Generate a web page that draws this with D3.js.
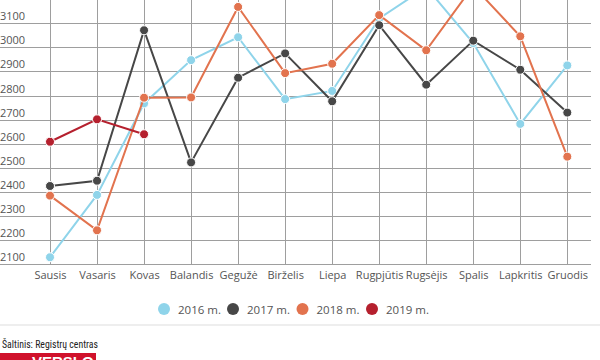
<!DOCTYPE html>
<html>
<head>
<meta charset="utf-8">
<script src="https://cdn.jsdelivr.net/npm/d3@7"></script>
<style>
  html, body { margin: 0; padding: 0; background: #fff; }
  svg { display: block; font-family: "Open Sans", "Noto Sans", sans-serif; }
</style>
</head>
<body>
<svg id="chart" width="600" height="360"></svg>
<script>
const months = ["Sausis","Vasaris","Kovas","Balandis","Gegužė","Birželis","Liepa","Rugpjūtis","Rugsėjis","Spalis","Lapkritis","Gruodis"];
const values2016 = [2128, 2387, 2767, 2947, 3042, 2785, 2819, 3120, 3250, 3018, 2682, 2925];
const values2017 = [2424, 2446, 3071, 2522, 2874, 2975, 2776, 3092, 2845, 3028, 2907, 2729];
const values2018 = [2384, 2240, 2791, 2792, 3168, 2893, 2932, 3134, 2988, 3255, 3046, 2546];
const values2019 = [2608, 2701, 2639];
const seriesNames = ["2016 m.", "2017 m.", "2018 m.", "2019 m."];
const seriesColors = ["#8fd4ea", "#474747", "#e2734e", "#b5202e"];
const yTicks = [2100, 2200, 2300, 2400, 2500, 2600, 2700, 2800, 2900, 3000, 3100, 3200];
const sourceText = "Šaltinis: Registrų centras";
const logoText = "VERSLO";

const svg = d3.select("#chart");
const x = d3.scalePoint().domain(months).range([50, 567.3]);
const y = d3.scaleLinear().domain([2100, 3100]).range([264, 23.3]);

// horizontal gridlines
const gGrid = svg.append("g");
gGrid.selectAll("line.h").data(yTicks).join("line")
  .attr("x1", 0).attr("x2", 591)
  .attr("y1", d => Math.round(y(d)) + 0.5).attr("y2", d => Math.round(y(d)) + 0.5)
  .attr("stroke", "#9e9e9e").attr("stroke-width", 1);
// vertical gridlines
gGrid.selectAll("line.v").data(months).join("line")
  .attr("x1", d => Math.round(x(d)) + 0.5).attr("x2", d => Math.round(x(d)) + 0.5)
  .attr("y1", 0).attr("y2", Math.round(y(2100)) + 0.5)
  .attr("stroke", "#9e9e9e").attr("stroke-width", 1);

// y labels (above gridlines)
svg.append("g").selectAll("text").data(yTicks.filter(d => d <= 3100)).join("text")
  .attr("x", 0).attr("y", d => y(d) - 3)
  .attr("font-size", 11).attr("fill", "#555")
  .text(d => d);

// x axis labels
const xAxis = d3.axisBottom(x).tickSize(0).tickPadding(0);
const gx = svg.append("g").attr("transform", `translate(0,${y(2100) + 15})`).call(xAxis);
gx.select(".domain").remove();
gx.selectAll("text").attr("font-size", 11).attr("fill", "#555")
  .attr("font-family", "'Open Sans', sans-serif").attr("dy", "0");

// series
const allSeries = [values2016, values2017, values2018, values2019];
const line = d3.line().x((d, i) => x(months[i])).y(d => y(d));
allSeries.forEach((vals, si) => {
  const g = svg.append("g");
  g.append("path").datum(vals).attr("d", line)
    .attr("fill", "none").attr("stroke", seriesColors[si]).attr("stroke-width", 2);
  g.selectAll("circle").data(vals).join("circle")
    .attr("cx", (d, i) => x(months[i])).attr("cy", d => y(d)).attr("r", 4.5)
    .attr("fill", seriesColors[si]).attr("stroke", "#fff").attr("stroke-width", 1);
});

// legend
const legendX = [164, 233, 302.5, 372];
const lg = svg.append("g").selectAll("g").data(seriesNames).join("g")
  .attr("transform", (d, i) => `translate(${legendX[i]},309)`);
lg.append("circle").attr("r", 6).attr("fill", (d, i) => seriesColors[i]);
lg.append("text").attr("x", 14).attr("y", 4.5).attr("font-size", 11.5).attr("fill", "#555").text(d => d);

// separator
svg.append("rect").attr("x", 0).attr("y", 324).attr("width", 600).attr("height", 2).attr("fill", "#eeeeee");

// source
svg.append("text").attr("x", 2).attr("y", 348)
  .attr("font-family", "'Liberation Sans Narrow', 'Roboto Condensed', sans-serif")
  .attr("font-size", 10.5).attr("fill", "#222")
  .attr("textLength", 96).attr("lengthAdjust", "spacingAndGlyphs")
  .text(sourceText);

// logo
svg.append("rect").attr("x", 0).attr("y", 353).attr("width", 96).attr("height", 10).attr("fill", "#d0122c");
svg.append("text").attr("x", 32).attr("y", 367).attr("font-size", 15).attr("font-weight", "bold")
  .attr("fill", "#fff").attr("font-family", "'Liberation Sans', sans-serif").text(logoText);
</script>
</body>
</html>
